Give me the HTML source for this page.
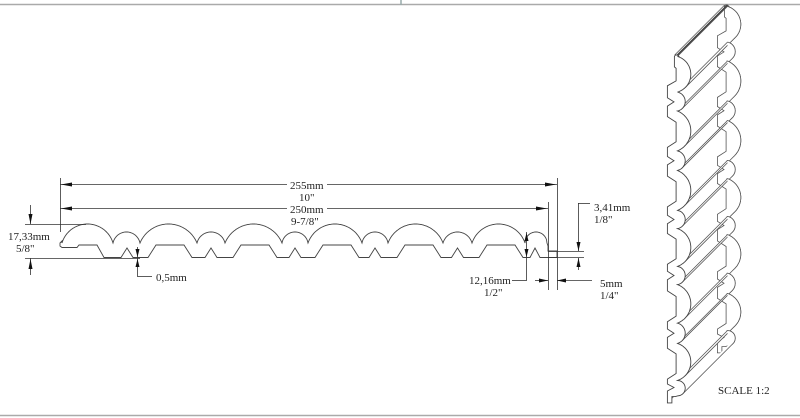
<!DOCTYPE html>
<html><head><meta charset="utf-8"><style>
html,body{margin:0;padding:0;background:#fff;}
svg{display:block}
text{font-family:"Liberation Serif",serif;font-size:11px;fill:#222}
</style></head><body>
<svg id="s" width="800" height="418" viewBox="0 0 800 418" xmlns="http://www.w3.org/2000/svg">
<line x1="0" y1="4.5" x2="800" y2="4.5" stroke="#aaa" stroke-width="1.5"/>
<line x1="401" y1="0" x2="401" y2="5" stroke="#9aa" stroke-width="1.5"/>
<line x1="0" y1="415.5" x2="800" y2="415.5" stroke="#aaa" stroke-width="1.5"/>
<g id="iso"></g>
<g id="sec" fill="none" stroke="#444" stroke-width="0.9"></g>
<g stroke="#333" stroke-width="0.8" fill="none">
 <line x1="60.5" y1="178" x2="60.5" y2="232"/>
 <line x1="557.5" y1="178" x2="557.5" y2="290"/>
 <line x1="548.5" y1="202" x2="548.5" y2="290"/>
 <line x1="60" y1="184.5" x2="557" y2="184.5"/>
 <line x1="60" y1="208.5" x2="548" y2="208.5"/>
 <line x1="25" y1="224.5" x2="86" y2="224.5"/>
 <line x1="25" y1="258.5" x2="140" y2="258.5"/>
 <line x1="30.5" y1="205" x2="30.5" y2="224"/>
 <line x1="30.5" y1="258" x2="30.5" y2="275"/>
 <line x1="137.5" y1="247" x2="137.5" y2="276"/>
 <line x1="137" y1="276.5" x2="152" y2="276.5"/>
 <line x1="526.5" y1="232" x2="526.5" y2="280"/>
 <line x1="512" y1="280.5" x2="527" y2="280.5"/>
 <line x1="548" y1="251.5" x2="584" y2="251.5"/>
 <line x1="548" y1="257.5" x2="584" y2="257.5"/>
 <line x1="578.5" y1="203" x2="578.5" y2="251"/>
 <line x1="578" y1="203.5" x2="590" y2="203.5"/>
 <line x1="578.5" y1="258" x2="578.5" y2="270"/>
 <line x1="535" y1="280.5" x2="548" y2="280.5"/>
 <line x1="557" y1="280.5" x2="592" y2="280.5"/>
</g>
<g fill="#111">
 <polygon points="61,184.5 72,182.5 72,186.5"/>
 <polygon points="556,184.5 545,182.5 545,186.5"/>
 <polygon points="61,208.5 72,206.5 72,210.5"/>
 <polygon points="547,208.5 536,206.5 536,210.5"/>
 <polygon points="30.5,224 28.5,214 32.5,214"/>
 <polygon points="30.5,259 28.5,269 32.5,269"/>
 <polygon points="137.5,257 135.5,249 139.5,249"/>
 <polygon points="137.5,259 135.5,267 139.5,267"/>
 <polygon points="526.5,233 524.5,241 528.5,241"/>
 <polygon points="526.5,257 524.5,249 528.5,249"/>
 <polygon points="578.5,251 576.5,242 580.5,242"/>
 <polygon points="578.5,258 576.5,267 580.5,267"/>
 <polygon points="548,280.5 539,278.5 539,282.5"/>
 <polygon points="557,280.5 566,278.5 566,282.5"/>
</g>
<rect x="287" y="179" width="40" height="11" fill="#fff"/>
<rect x="287" y="203" width="40" height="11" fill="#fff"/>
<text x="290" y="189">255mm</text>
<text x="299" y="201">10"</text>
<text x="290" y="213">250mm</text>
<text x="291" y="225">9-7/8"</text>
<text x="8" y="240">17,33mm</text>
<text x="16" y="252">5/8"</text>
<text x="156" y="281">0,5mm</text>
<text x="469" y="284">12,16mm</text>
<text x="484" y="296">1/2"</text>
<text x="594" y="211">3,41mm</text>
<text x="594" y="223">1/8"</text>
<text x="600" y="287">5mm</text>
<text x="600" y="299">1/4"</text>
<text x="718" y="394">SCALE  1:2</text>
</svg>
<script>
(function(){
var NS="http://www.w3.org/2000/svg";
function el(p,t,a){var e=document.createElementNS(NS,t);for(var k in a)e.setAttribute(k,a[k]);p.appendChild(e);return e;}
var arcs=[];
function mk(x0,x1,peak,valley){var h=(x1-x0)/2,s=valley-peak,r=(h*h+s*s)/(2*s);arcs.push({x0:x0,x1:x1,cx:(x0+x1)/2,cy:peak+r,r:r});}
var bigs=[[62,113],[140,197],[225,282],[308,362],[388,443],[472,525]];
var smalls=[[113,140],[197,225],[282,308],[362,388],[443,472]];
for(var i=0;i<6;i++){mk(bigs[i][0],bigs[i][1],224,243);if(i<5)mk(smalls[i][0],smalls[i][1],232,243);}
mk(525,547,232,243);
function ay(a,x){var d=a.r*a.r-(x-a.cx)*(x-a.cx);return a.cy-Math.sqrt(Math.max(0,d));}
function pts(a,xa,xb){var o=[],st=xa<xb?1:-1;for(var x=xa;st>0?x<xb:x>xb;x+=st*0.5)o.push([x,ay(a,x)]);o.push([xb,ay(a,xb)]);return o;}
var top=[[60,243],[62,241]];
arcs.forEach(function(a){top=top.concat(pts(a,a.x0,a.x1));});
top.push([548,246],[548,251],[557,251],[557,257.5]);
var bot=[[62,247.5],[77,247.5],[79,245],[97,245],[104,257.5]];
var bc=[168,253,335,417,499],tc=[127,211,295,375,457.5];
for(var i=0;i<5;i++){bot.push([tc[i]-6,257.5],[tc[i],248],[tc[i]+6,257.5]);var c=bc[i];bot.push([c-20,257.5],[c-12,245],[c+16,245],[c+24,257.5]);}
bot.push([530,257.5],[535,248],[540,257.5]);
var poly=top.concat(bot.slice().reverse()).concat([[60,246]]);
function str(p){return p.map(function(q){return q[0].toFixed(1)+","+q[1].toFixed(1);}).join(" ");}
var sec=document.getElementById("sec");
el(sec,"polygon",{points:str(poly)});
var k=0.70,DX=50,DY=-50;
function F(p){return [667+(258-p[1])*k,55+(p[0]-60)*k];}
function B(p){var f=F(p);return [f[0]+DX,f[1]+DY];}
var iso=document.getElementById("iso");
var st={fill:"none",stroke:"#555","stroke-width":"0.8"};
el(iso,"polygon",{points:str(poly.map(B)),fill:"#fff",stroke:"#555","stroke-width":"0.8"});
var n1=F([60,243]),n2=F([60,247]);
el(iso,"line",{x1:n1[0],y1:n1[1],x2:n1[0]+DX,y2:n1[1]+DY,stroke:"#444","stroke-width":"1.6"});
el(iso,"line",{x1:n2[0],y1:n2[1],x2:n2[0]+DX,y2:n2[1]+DY,stroke:"#555","stroke-width":"0.8"});
arcs.forEach(function(a){
  var xt=Math.min(a.x1,a.cx+a.r/Math.SQRT2);
  var back=pts(a,a.x0,xt).map(B), front=pts(a,xt,a.x1).map(F);
  var fillp=back.concat(front).concat([B([a.x1,ay(a,a.x1)])]);
  el(iso,"polygon",{points:str(fillp),fill:"#fff",stroke:"none"});
  el(iso,"polyline",Object.assign({points:str([B([a.x0,ay(a,a.x0)])].concat(back))},st));
  var t1=B([xt,ay(a,xt)]),t0=F([xt,ay(a,xt)]);
  el(iso,"line",Object.assign({x1:t0[0],y1:t0[1],x2:t1[0],y2:t1[1]},st));
  var v0=F([a.x0,ay(a,a.x0)]),v1=B([a.x0,ay(a,a.x0)]);
  el(iso,"line",Object.assign({x1:v0[0],y1:v0[1],x2:v1[0],y2:v1[1]},st));
});
var e0=F([557,257.5]);
el(iso,"line",Object.assign({x1:e0[0],y1:e0[1],x2:e0[0]+DX*0.3,y2:e0[1]+DY*0.3},st));
el(iso,"polygon",{points:str(poly.map(F)),fill:"#fff",stroke:"#444","stroke-width":"0.9"});
})();
</script>
</body></html>
